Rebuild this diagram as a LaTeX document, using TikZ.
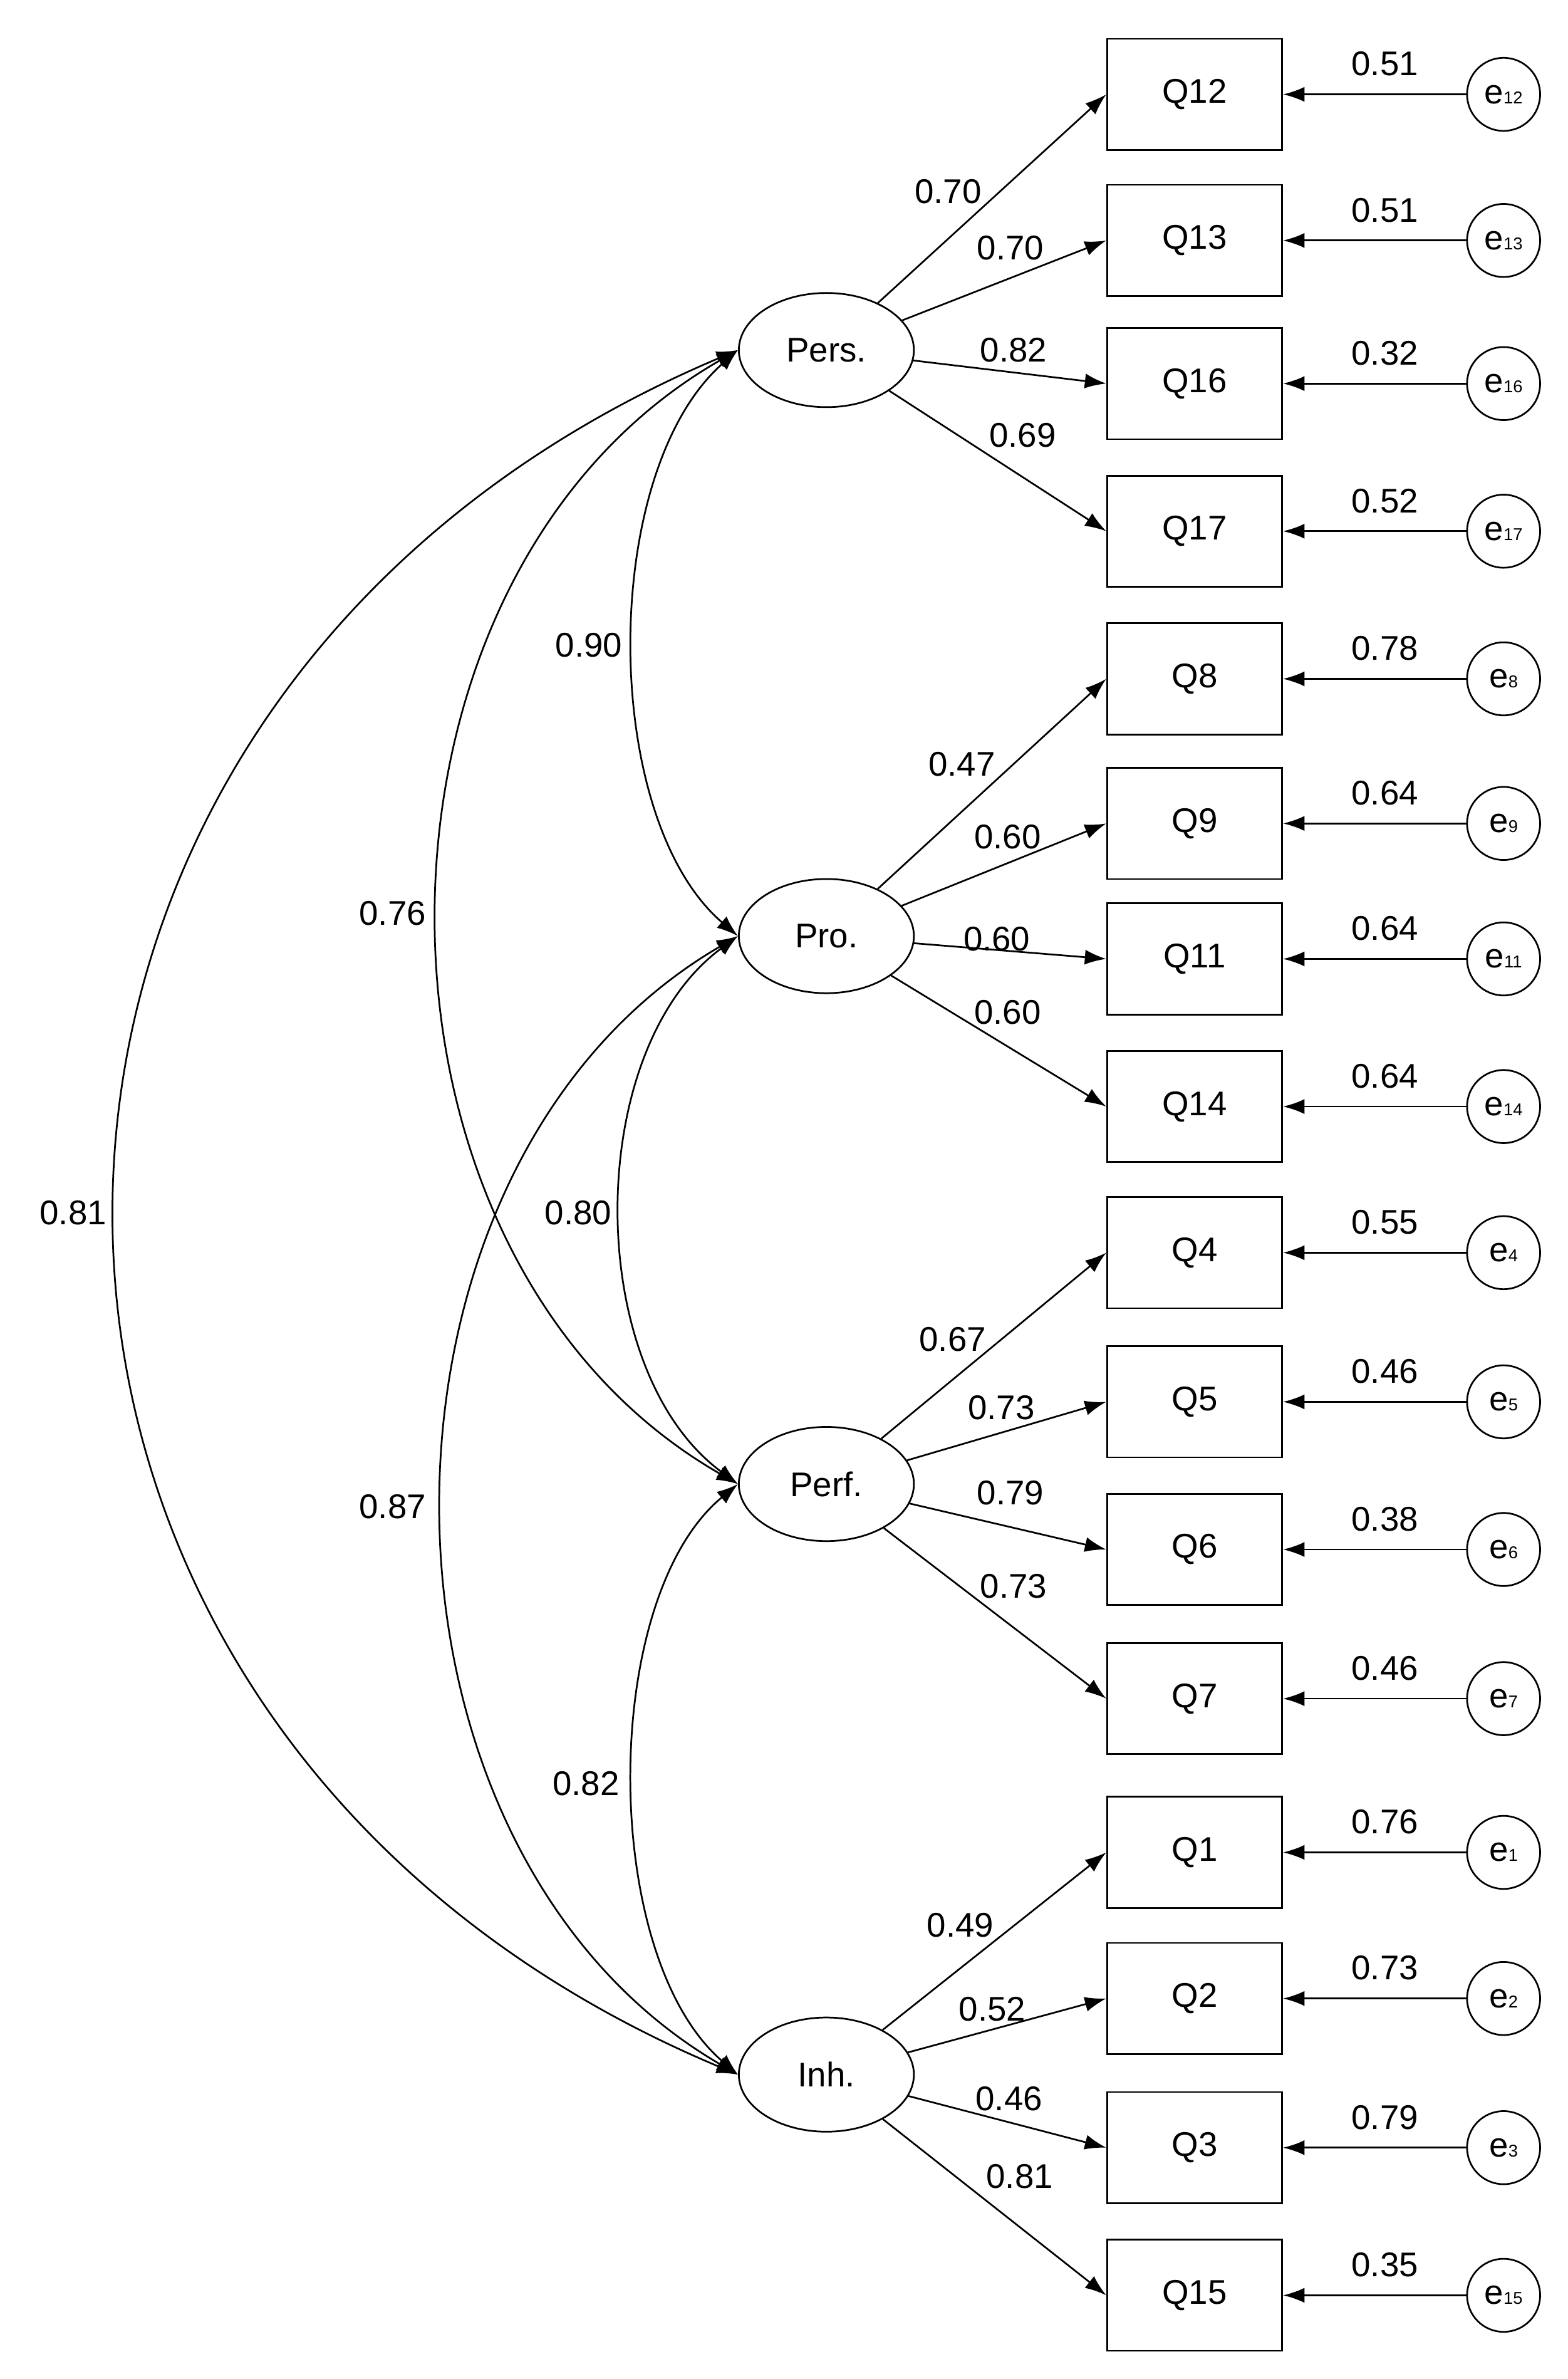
\documentclass[tikz,border=0pt]{standalone}
\usepackage{fontspec}
\setmainfont{Liberation Sans}
\usetikzlibrary{arrows.meta,shapes.geometric}
\begin{document}
\begin{tikzpicture}[x=0.025cm,y=-0.025cm,
  font=\fontsize{16}{18}\selectfont,
  lat/.style={draw,thick,ellipse,minimum width=2.875cm,minimum height=1.875cm,inner sep=0pt},
  obs/.style={draw,thick,minimum width=2.875cm,minimum height=1.825cm,inner sep=0pt},
  err/.style={draw,thick,circle,minimum size=1.2cm,inner sep=0pt},
  arr/.style={thick,-{Latex[length=10pt,width=7pt]}},
  cov/.style={thick,{Latex[length=10pt,width=7pt]}-{Latex[length=10pt,width=7pt]}},
  lab/.style={inner sep=1pt}]
\useasboundingbox (0,0) rectangle (1030,1563);
\node[lat] (Pers) at (543,230) {Pers.};
\node[lat] (Pro) at (543,615) {Pro.};
\node[lat] (Perf) at (543,975) {Perf.};
\node[lat] (Inh) at (543,1363) {Inh.};
\foreach \q/\y/\v/\lat in {12/62/0.51/Pers,13/158/0.51/Pers,16/252/0.32/Pers,17/349/0.52/Pers,
  8/446/0.78/Pro,9/541/0.64/Pro,11/630/0.64/Pro,14/727/0.64/Pro,
  4/823/0.55/Perf,5/921/0.46/Perf,6/1018/0.38/Perf,7/1116/0.46/Perf,
  1/1217/0.76/Inh,2/1313/0.73/Inh,3/1411/0.79/Inh,15/1508/0.35/Inh}{
  \node[obs] (Q\q) at (785,\y) {Q\q};
  \node[err] (e\q) at (988,\y) {e{\footnotesize\q}};
  \draw[arr] (e\q) -- (Q\q);
  \node[lab] at (910,\y-20) {\v};
  \draw[arr] (\lat) -- (Q\q.west);
}
\foreach \t/\x/\y in {0.70/623/126,0.70/664/163,0.82/666/230,0.69/672/286,
  0.47/632/502,0.60/662/550,0.60/655/617,0.60/662/665,
  0.67/626/880,0.73/658/925,0.79/664/981,0.73/666/1042,
  0.49/631/1265,0.52/652/1320,0.46/663/1379,0.81/670/1430}{
  \node[lab] at (\x,\y) {\t};
}
\draw[cov] (Pers.west) .. controls (394,310) and (394,537) .. (Pro.west);
\draw[cov] (Pro.west) .. controls (383,690) and (383,900) .. (Perf.west);
\draw[cov] (Perf.west) .. controls (394,1050) and (394,1285) .. (Inh.west);
\draw[cov] (Pers.west) .. controls (223,380) and (223,825) .. (Perf.west);
\draw[cov] (Pro.west) .. controls (227,765) and (227,1213) .. (Inh.west);
\draw[cov] (Pers.west) .. controls (-59,460) and (-59,1135) .. (Inh.west);
\node[lab] at (387,424) {0.90};
\node[lab] at (258,600) {0.76};
\node[lab] at (48,797) {0.81};
\node[lab] at (380,797) {0.80};
\node[lab] at (258,990) {0.87};
\node[lab] at (385,1172) {0.82};
\end{tikzpicture}
\end{document}
